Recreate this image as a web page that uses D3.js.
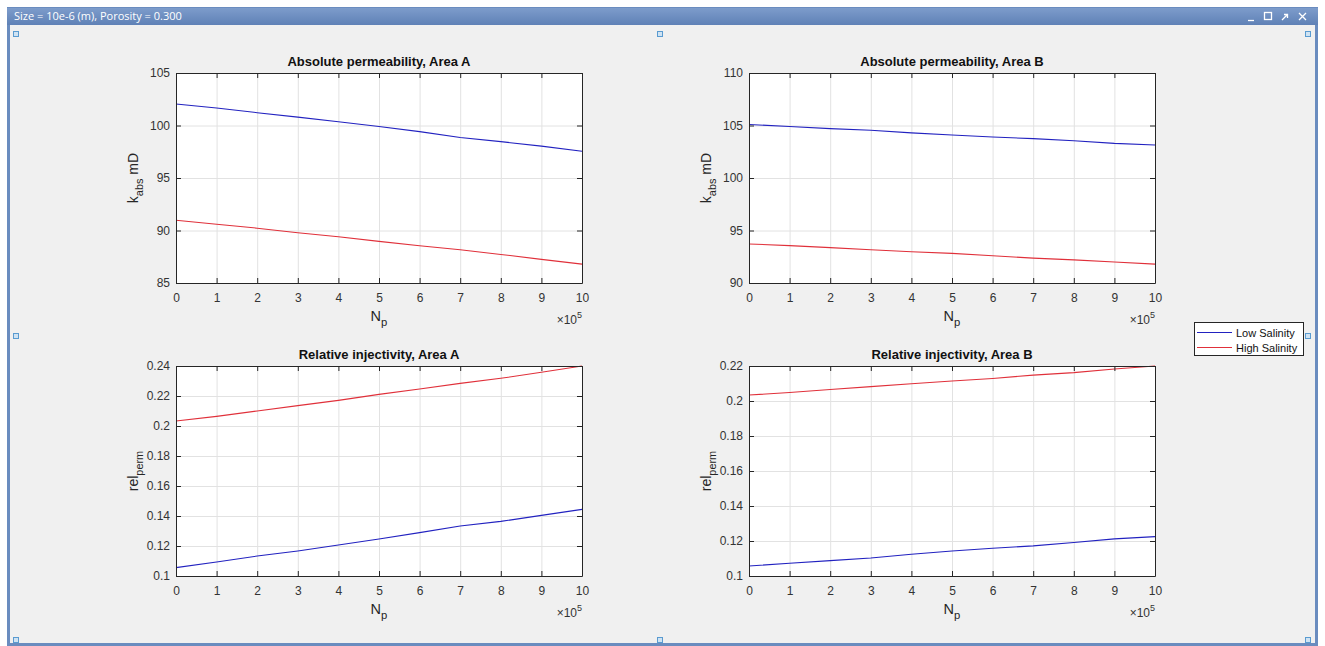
<!DOCTYPE html>
<html>
<head>
<meta charset="utf-8">
<script src="https://cdn.jsdelivr.net/npm/d3@7"></script>
<style>
body { margin: 0; background: #fff; }
svg text { font-family: "Liberation Sans", Arial, sans-serif; fill: #262626; }
</style>
</head>
<body>
<div id="chart"></div>
<script>
// values, one point per 1e5 of N_p
const np = [0, 100000, 200000, 300000, 400000, 500000, 600000, 700000, 800000, 900000, 1000000];
const npTicks = [0, 100000, 200000, 300000, 400000, 500000, 600000, 700000, 800000, 900000, 1000000];

const permA_low  = [102.05, 101.67, 101.22, 100.80, 100.35, 99.90, 99.42, 98.85, 98.46, 98.04, 97.55];
const permA_high = [90.98, 90.60, 90.22, 89.78, 89.40, 88.96, 88.55, 88.16, 87.72, 87.25, 86.80];
const permB_low  = [105.10, 104.90, 104.70, 104.55, 104.30, 104.10, 103.90, 103.75, 103.55, 103.30, 103.15];
const permB_high = [93.72, 93.56, 93.37, 93.17, 92.98, 92.82, 92.60, 92.37, 92.20, 92.00, 91.80];
const injA_low   = [0.1056, 0.1093, 0.1133, 0.1167, 0.1207, 0.1247, 0.1289, 0.1333, 0.1364, 0.1404, 0.1444];
const injA_high  = [0.2033, 0.2064, 0.2100, 0.2136, 0.2171, 0.2211, 0.2247, 0.2284, 0.2318, 0.2358, 0.2400];
const injB_low   = [0.1057, 0.1073, 0.1088, 0.1103, 0.1124, 0.1143, 0.1159, 0.1172, 0.1191, 0.1212, 0.1225];
const injB_high  = [0.2034, 0.2049, 0.2066, 0.2082, 0.2099, 0.2114, 0.2129, 0.2148, 0.2162, 0.2183, 0.2200];

const permTicksA = [85, 90, 95, 100, 105];
const permTicksB = [90, 95, 100, 105, 110];
const injTicksA = [0.1, 0.12, 0.14, 0.16, 0.18, 0.2, 0.22, 0.24];
const injTicksB = [0.1, 0.12, 0.14, 0.16, 0.18, 0.2, 0.22];

const seriesNames = ['Low Salinity', 'High Salinity'];
const windowTitle = 'Size = 10e-6 (m), Porosity = 0.300';

const panels = [
    { title: 'Absolute permeability, Area A', ylab: ['k', 'abs', ' mD'], series: [permA_low, permA_high], yTicks: permTicksA, col: 0, row: 0 },
    { title: 'Absolute permeability, Area B', ylab: ['k', 'abs', ' mD'], series: [permB_low, permB_high], yTicks: permTicksB, col: 1, row: 0 },
    { title: 'Relative injectivity, Area A', ylab: ['rel', 'perm', ''], series: [injA_low, injA_high], yTicks: injTicksA, col: 0, row: 1 },
    { title: 'Relative injectivity, Area B', ylab: ['rel', 'perm', ''], series: [injB_low, injB_high], yTicks: injTicksB, col: 1, row: 1 }
];

const W = 1325, H = 646;
const colLeft = [176, 749], rowTop = [73, 366];
const pw = 406, ph = 210;
const colors = ['#2222c0', '#e0303a'];

const svg = d3.select('#chart').append('svg')
    .attr('width', W)
    .attr('height', H);

// window frame
const grad = svg.append('defs').append('linearGradient')
    .attr('id', 'tbar').attr('x1', 0).attr('y1', 0).attr('x2', 0).attr('y2', 1);
grad.append('stop').attr('offset', '0%').attr('stop-color', '#7d9ccb');
grad.append('stop').attr('offset', '100%').attr('stop-color', '#5f81b6');

svg.append('rect').attr('x', 7).attr('y', 7).attr('width', 1311).attr('height', 639).attr('fill', '#6a8cbf');
svg.append('rect').attr('x', 7).attr('y', 8).attr('width', 1311).attr('height', 17).attr('fill', 'url(#tbar)');
svg.append('rect').attr('x', 10).attr('y', 25).attr('width', 1305).attr('height', 618).attr('fill', '#f0f0f0');

svg.append('text')
    .attr('x', 14).attr('y', 20)
    .style('font-family', '"Open Sans", "Noto Sans", sans-serif')
    .style('font-size', '11px')
    .style('fill', '#fff')
    .text(windowTitle);

const ctrl = svg.append('g').style('fill', 'none').style('stroke', '#fff').style('stroke-width', 1.3);
ctrl.append('line').attr('x1', 1248).attr('x2', 1254).attr('y1', 20.5).attr('y2', 20.5);
ctrl.append('rect').attr('x', 1264.5).attr('y', 12.5).attr('width', 7).attr('height', 7);
ctrl.append('path').attr('d', 'M1282,20 L1287,15 M1284,14.5 L1287.5,14.5 L1287.5,18');
ctrl.append('path').attr('d', 'M1299,13 L1306,20 M1306,13 L1299,20');

// resize handles
const handles = [[13, 31], [657, 31], [1305, 31], [13, 333], [1305, 333], [13, 637], [657, 637], [1305, 637]];
svg.selectAll('.handle')
    .data(handles)
    .enter()
    .append('rect')
    .attr('class', 'handle')
    .attr('x', d => d[0] + 0.5).attr('y', d => d[1] + 0.5)
    .attr('width', 5).attr('height', 5)
    .attr('fill', '#cfe3f3').attr('stroke', '#5a9bd0');

function subText(g, parts, size) {
    let t = g.append('text').style('font-size', size + 'px');
    t.append('tspan').text(parts[0]);
    t.append('tspan').attr('dy', size * 0.35).style('font-size', (size * 0.78) + 'px').text(parts[1]);
    if (parts[2]) t.append('tspan').attr('dy', -size * 0.35).text(parts[2]);
    return t;
}

panels.forEach(p => {
    const left = colLeft[p.col], top = rowTop[p.row];
    const x = d3.scaleLinear().domain([0, 1000000]).range([0, pw]);
    const y = d3.scaleLinear().domain(d3.extent(p.yTicks)).range([ph, 0]);
    const yFmt = v => String(+v.toFixed(2));

    const g = svg.append('g').attr('transform', `translate(${left},${top})`);
    g.append('rect').attr('width', pw).attr('height', ph).attr('fill', '#fff');

    // grid
    g.append('g')
        .call(d3.axisBottom(x).tickValues(npTicks).tickSize(ph).tickFormat(''))
        .call(a => a.select('.domain').remove())
        .selectAll('line').attr('stroke', '#e2e2e2');
    g.append('g')
        .call(d3.axisLeft(y).tickValues(p.yTicks).tickSize(-pw).tickFormat(''))
        .call(a => a.select('.domain').remove())
        .selectAll('line').attr('stroke', '#e2e2e2');

    // series
    const line = d3.line().x((d, i) => x(np[i])).y(d => y(d));
    p.series.forEach((s, k) => {
        g.append('path')
            .datum(s)
            .attr('fill', 'none')
            .attr('stroke', colors[k])
            .attr('stroke-width', 1.1)
            .attr('d', line);
    });

    // axes, ticks pointing inward
    const ax = g.append('g').attr('class', 'axes');
    const xAx = ax.append('g').attr('transform', `translate(0,${ph})`)
        .call(d3.axisBottom(x).tickValues(npTicks).tickSizeInner(-5).tickSizeOuter(0).tickPadding(8).tickFormat(v => v / 100000));
    ax.append('g')
        .call(d3.axisTop(x).tickValues(npTicks).tickSizeInner(-5).tickSizeOuter(0).tickFormat(''));
    ax.append('g')
        .call(d3.axisLeft(y).tickValues(p.yTicks).tickSizeInner(-5).tickSizeOuter(0).tickPadding(6).tickFormat(yFmt));
    ax.append('g').attr('transform', `translate(${pw},0)`)
        .call(d3.axisRight(y).tickValues(p.yTicks).tickSizeInner(-5).tickSizeOuter(0).tickFormat(''));
    ax.selectAll('.domain, .tick line').attr('stroke', '#262626');
    ax.selectAll('.tick text').style('font-size', '12px').style('fill', '#333');
    xAx.selectAll('.tick text').attr('dy', '0.9em');

    g.append('text')
        .attr('x', pw / 2).attr('y', -7)
        .attr('text-anchor', 'middle')
        .style('font-size', '13px').style('font-weight', 'bold').style('fill', '#111')
        .text(p.title);

    subText(g, ['N', 'p', ''], 14.5)
        .attr('x', pw / 2).attr('y', ph + 38)
        .attr('text-anchor', 'middle');

    const ex = g.append('text')
        .attr('x', pw).attr('y', ph + 41)
        .attr('text-anchor', 'end')
        .style('font-size', '12px').style('fill', '#333');
    ex.append('tspan').text('\u00d710');
    ex.append('tspan').attr('dy', -6).style('font-size', '9px').text('5');

    subText(g, p.ylab, 14)
        .attr('text-anchor', 'middle')
        .attr('transform', `translate(-38,${ph / 2}) rotate(-90)`);
});

// legend
const lg = svg.append('g').attr('transform', 'translate(1194,322)');
lg.append('rect').attr('x', 0.5).attr('y', 0.5).attr('width', 109).attr('height', 33)
    .attr('fill', '#fff').attr('stroke', '#262626');
seriesNames.forEach((n, k) => {
    const yy = 10.5 + k * 15;
    lg.append('line').attr('x1', 3).attr('x2', 38).attr('y1', yy).attr('y2', yy)
        .attr('stroke', colors[k]);
    lg.append('text').attr('x', 42).attr('y', yy + 4)
        .style('font-size', '11px').style('fill', '#111').text(n);
});
</script>
</body>
</html>
